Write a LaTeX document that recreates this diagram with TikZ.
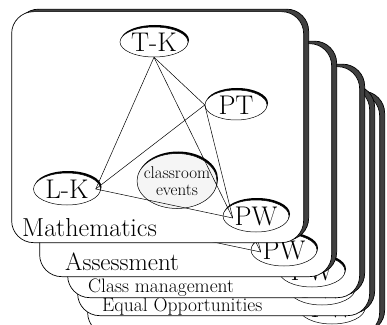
\documentclass[tikz,border=0pt]{standalone}
\usetikzlibrary{shapes.geometric,shadows,positioning}

\begin{document}
\begin{tikzpicture}[x=1pt,y=1pt,
  card/.style={draw=black,fill=white,rounded corners=22pt,line width=0.7pt,
               minimum width=292pt,anchor=south east,inner sep=0pt,
               drop shadow={shadow xshift=5pt,shadow yshift=2.5pt,
                            fill=black!75,draw=black,opacity=1}},
  bub/.style={ellipse,draw=black,fill=white,line width=0.5pt,inner sep=0pt,
              minimum width=64pt,minimum height=30pt,
              font=\fontsize{27}{29}\selectfont,
              drop shadow={shadow xshift=1pt,shadow yshift=2pt,
                           fill=black,opacity=1}},
  evt/.style={bub,fill=black!4,minimum width=80pt,minimum height=55pt,
              inner xsep=-8pt,inner ysep=-2pt,align=center,
              font=\fontsize{17}{17}\selectfont},
  lab/.style={anchor=west,inner sep=0pt},
  link/.style={line width=0.5pt}]
  \useasboundingbox (0,0) rectangle (387,324);
  % cards behind, from back to front
  \foreach \n/\r/\b/\h/\txt/\lx/\ly/\fs in {
      5/380/-11/241/{}/-270/10/19,
      4/370/8/228/{Equal Opportunities}/-268/9/19.5,
      3/360/26/231/{Class management}/-272/10/19.5,
      2/332/47/233/Assessment/-267/15/25}{
    \node[card,minimum height=\h pt] (card\n) at (\r,\b) {};
    \coordinate (tk\n) at ([shift={(-150,186)}]card\n.south east);
    \coordinate (pt\n) at ([shift={(-99,138)}]card\n.south east);
    \coordinate (lk\n) at ([shift={(-209,54)}]card\n.south east);
    \node[bub,minimum width=66pt,minimum height=32pt] (pw\n)
         at ([shift={(-48,27)}]card\n.south east) {PW};
    \node[lab,font=\fontsize{\fs}{\fs}\selectfont] (lb\n)
         at ([shift={(\lx,\ly)}]card\n.south east) {\txt};
    \coordinate (pwx\n) at ([shift={(10,-2)}]pw\n.west);
    \draw[link] (tk\n) -- (pwx\n);
    \draw[link] (lk\n) -- (pwx\n);
    \draw[link] (pt\n) -- (pwx\n);
  }
  % front card
  \node[card,minimum height=231pt] (card1) at (304,81) {};
  \node[bub,minimum width=68pt] (tk1) at ([shift={(-150,201)}]card1.south east) {T-K};
  \node[bub,minimum width=62pt] (pt1) at ([shift={(-68,138)}]card1.south east) {PT};
  \node[bub,minimum width=67pt,minimum height=32pt] (lk1)
       at ([shift={(-237,54)}]card1.south east) {L-K};
  \node[evt] (ev1) at ([shift={(-127,62)}]card1.south east) {classroom\\events};
  \node[bub,minimum width=66pt,minimum height=32pt] (pw1)
       at ([shift={(-48,27)}]card1.south east) {PW};
  \node[lab,font=\fontsize{26}{26}\selectfont] (lb1)
       at ([shift={(-282,15)}]card1.south east) {Mathematics};
  \coordinate (lkx1) at ([xshift=-5pt]lk1.east);
  \coordinate (pwx1) at ([shift={(10,-2)}]pw1.west);
  \draw[link] (tk1.south) -- (lkx1);
  \draw[link] (tk1.south) -- (pt1.west);
  \draw[link] (tk1.south) -- (pwx1);
  \draw[link] (lkx1) -- (pt1.west);
  \draw[link] (lkx1) -- (pwx1);
  \draw[link] (pt1.west) -- (pwx1);
\end{tikzpicture}
\end{document}
